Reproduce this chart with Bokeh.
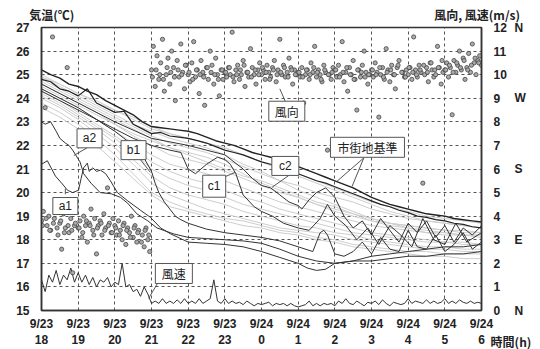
import numpy as np
from bokeh.plotting import figure
from bokeh.models import Range1d, LinearAxis, FixedTicker
from bokeh.core.properties import value
from bokeh.embed import file_html
from bokeh.resources import INLINE

# ---------------- data ----------------
hours = list(range(13))
tick_labels = ["9/23\n18", "9/23\n19", "9/23\n20", "9/23\n21", "9/23\n22", "9/23\n23",
               "9/24\n0", "9/24\n1", "9/24\n2", "9/24\n3", "9/24\n4", "9/24\n5", "9/24\n6"]
temp_ticks = list(range(15, 28))
wind_ticks = list(range(0, 13))
dir_ticks = [0, 3, 6, 9, 12]
dir_names = ["N", "E", "S", "W", "N"]
title_ticks = [0.28, 11.88]
title_texts = ["気温(℃)", "風向, 風速(m/s)"]
x_unit = "時間(h)"

t_q = np.linspace(0, 12, 49)     # quarter-hour samples
t_h = np.linspace(0, 12, 25)     # half-hour samples

# urban reference lines (市街地基準)
ref1 = [25.2, 25.0, 24.85, 24.6, 24.5, 24.3, 24.15, 23.9, 23.7, 23.5, 23.3, 23.0, 22.8, 22.75,
        22.7, 22.65, 22.6, 22.5, 22.35, 22.2, 22.1, 22.0, 21.85, 21.7, 21.6, 21.5, 21.35, 21.2,
        21.1, 20.95, 20.8, 20.65, 20.5, 20.35, 20.2, 20.0, 19.8, 19.65, 19.5, 19.4, 19.3, 19.2,
        19.1, 19.05, 19.0, 18.9, 18.85, 18.8, 18.75]
ref2 = [24.8, 24.7, 24.4, 24.3, 24.1, 24.4, 23.8, 23.6, 23.4, 23.45, 22.9, 22.7, 22.5, 22.55,
        22.4, 22.35, 22.3, 22.2, 22.1, 21.95, 21.8, 21.7, 21.6, 21.45, 21.3, 21.2, 21.05, 20.9,
        20.8, 20.65, 20.5, 20.4, 20.25, 20.1, 19.95, 19.8, 19.65, 19.5, 19.4, 19.25, 19.15, 19.0,
        18.95, 18.85, 18.8, 18.7, 18.65, 18.55, 18.5]

# other observation points (light grey)
grey_lines = [
    [25.0, 24.6, 24.2, 23.8, 23.5, 23.2, 22.8, 22.5, 22.3, 22.1, 21.9, 21.6, 21.3, 21.0, 20.8, 20.5, 20.2, 19.9, 19.6, 19.4, 19.2, 19.0, 18.9, 18.8, 18.7],
    [24.8, 24.4, 24.0, 23.6, 23.2, 22.8, 22.4, 22.1, 21.9, 21.7, 21.4, 21.1, 20.8, 20.5, 20.3, 20.0, 19.8, 19.6, 19.3, 19.1, 18.9, 18.8, 18.7, 18.6, 18.5],
    [24.6, 24.2, 23.8, 23.4, 22.9, 22.4, 22.0, 21.6, 21.4, 21.2, 20.9, 20.6, 20.3, 20.0, 19.8, 19.5, 19.3, 19.1, 18.9, 18.7, 18.6, 18.5, 18.4, 18.3, 18.3],
    [24.4, 24.0, 23.6, 23.1, 22.6, 22.1, 21.6, 21.2, 21.0, 20.8, 20.5, 20.2, 19.9, 19.6, 19.4, 19.2, 19.0, 18.8, 18.6, 18.5, 18.4, 18.3, 18.2, 18.2, 18.1],
    [24.2, 23.8, 23.3, 22.8, 22.3, 21.7, 21.0, 20.6, 20.3, 20.1, 19.8, 19.5, 19.3, 19.1, 18.9, 18.7, 18.5, 18.3, 18.2, 18.1, 18.0, 17.9, 17.9, 17.8, 17.8],
    [24.0, 23.6, 23.1, 22.5, 21.9, 21.2, 20.4, 19.9, 19.6, 19.3, 19.1, 18.9, 18.7, 18.5, 18.4, 18.3, 18.2, 18.0, 17.9, 17.8, 17.7, 17.6, 17.6, 17.5, 17.5],
    [23.8, 23.4, 22.9, 22.3, 21.6, 20.8, 20.0, 19.6, 19.3, 19.1, 18.9, 18.8, 18.6, 18.4, 18.3, 18.1, 18.0, 17.8, 17.7, 17.6, 17.5, 17.5, 17.4, 17.4, 17.4],
    [24.5, 24.1, 23.7, 23.3, 22.9, 22.5, 22.2, 21.9, 21.7, 21.5, 21.2, 20.8, 20.4, 20.1, 19.8, 19.5, 19.2, 19.0, 18.8, 18.7, 18.5, 18.3, 18.3, 18.2, 18.2],
    [24.9, 24.5, 24.1, 23.7, 23.3, 22.9, 22.6, 22.3, 22.1, 21.9, 21.6, 21.2, 20.9, 20.5, 20.1, 19.8, 19.5, 19.2, 18.9, 18.7, 18.6, 18.5, 18.4, 18.4, 18.3],
    [23.6, 23.2, 22.7, 22.0, 21.3, 20.6, 19.9, 19.4, 19.2, 19.0, 18.8, 18.6, 18.5, 18.3, 18.2, 18.0, 17.9, 17.7, 17.6, 17.5, 17.4, 17.3, 17.3, 17.2, 17.2],
    [24.7, 24.3, 23.9, 23.5, 23.1, 22.7, 22.3, 21.9, 21.6, 21.3, 21.0, 20.7, 20.5, 20.2, 19.9, 19.6, 19.4, 19.1, 18.8, 18.6, 18.5, 18.4, 18.3, 18.2, 18.2],
    [24.3, 23.9, 23.4, 22.9, 22.4, 21.9, 21.3, 20.9, 20.6, 20.4, 20.1, 19.8, 19.6, 19.3, 19.1, 18.9, 18.7, 18.5, 18.3, 18.2, 18.1, 18.0, 17.9, 17.9, 17.8],
    [24.1, 23.7, 23.2, 22.7, 22.1, 21.4, 20.7, 20.2, 19.9, 19.7, 19.5, 19.2, 19.0, 18.8, 18.6, 18.5, 18.3, 18.2, 18.0, 17.9, 17.8, 17.7, 17.7, 17.6, 17.6],
    [24.9, 24.6, 24.2, 23.9, 23.5, 23.1, 22.7, 22.5, 22.3, 22.1, 21.9, 21.6, 21.3, 21.0, 20.7, 20.4, 20.1, 19.8, 19.5, 19.2, 19.0, 18.8, 18.7, 18.6, 18.5],
]

a1_t = [0, 0.16, 0.38, 0.55, 0.71, 0.85, 1.01, 1.08, 1.15, 1.25, 1.3, 1.4, 1.5, 1.61, 1.75, 1.88,
        2.07, 2.35, 2.7, 2.97, 3.25, 3.52, 4.0, 4.5, 5.0, 5.5, 6.0, 6.5, 7.0, 7.25, 7.5, 7.75,
        8.0, 8.5, 9.0, 9.5, 10.0, 10.5, 11.0, 11.5, 12.0]
a1_v = [21.2, 21.35, 20.7, 20.4, 20.1, 20.0, 20.1, 20.6, 21.05, 21.25, 20.9, 21.05, 20.9, 20.95,
        20.8, 20.5, 20.0, 19.65, 19.25, 18.95, 18.5, 18.25, 17.9, 17.85, 17.8, 17.7, 17.5, 17.25,
        17.0, 16.8, 16.7, 16.75, 17.0, 17.1, 17.1, 17.2, 17.3, 17.3, 17.4, 17.4, 17.5]

a2_t = [0, 0.1, 0.25, 0.4, 0.5, 0.65, 0.75, 0.85, 0.95, 1.05, 1.15, 1.35, 1.6, 1.9, 2.15, 2.35,
        2.6, 2.9, 3.15, 3.6, 4.0, 4.5, 5.0, 5.5, 6.0, 6.5, 7.0, 7.5, 8.0, 8.5, 9.0, 9.5, 10.0,
        10.5, 11.0, 11.5, 12.0]
a2_v = [23.0, 22.9, 23.0, 22.6, 22.3, 22.1, 22.0, 21.8, 21.55, 21.3, 20.8, 20.4, 20.0, 19.95,
        19.8, 19.55, 19.1, 18.8, 18.5, 18.25, 18.1, 18.05, 18.0, 17.95, 17.85, 17.6, 17.3, 17.1,
        17.0, 17.1, 17.3, 17.4, 17.5, 17.6, 17.7, 17.7, 17.8]

b1_t = [0, 0.5, 1.0, 1.5, 2.0, 2.5, 2.75, 3.0, 3.1, 3.2, 3.35, 3.5, 3.65, 3.8, 4.0, 4.5, 5.0,
        5.5, 6.0, 6.5, 7.0, 7.4, 7.5, 7.6, 7.7, 7.8, 7.9, 8.0, 8.25, 8.5, 8.75, 9.0, 9.25, 9.5,
        9.75, 10.0, 10.25, 10.5, 10.75, 11.0, 11.25, 11.5, 11.75, 12.0]
b1_v = [24.4, 24.0, 23.6, 23.1, 22.6, 22.0, 21.6, 20.9, 20.4, 20.0, 19.6, 19.3, 19.0, 18.85,
        18.7, 18.45, 18.3, 18.2, 18.1, 17.95, 17.7, 17.5, 17.9, 18.3, 18.4, 18.2, 17.8, 17.4,
        17.3, 17.5, 17.9, 17.4, 18.1, 17.6, 17.5, 18.4, 17.7, 17.6, 18.2, 17.5, 17.8, 18.3,
        17.6, 17.9]

c1_t = [0, 0.5, 1, 1.5, 2, 2.5, 3, 3.5, 3.8, 4.0, 4.2, 4.5, 4.8, 5.0, 5.15, 5.3, 5.5, 5.8, 6.0,
        6.3, 6.6, 7.0, 7.3, 7.6, 7.8, 8.0, 8.3, 8.6, 8.9, 9.2, 9.5, 9.8, 10.1, 10.4, 10.7, 11.0,
        11.3, 11.6, 12.0]
c1_v = [24.3, 23.9, 23.5, 23.1, 22.7, 22.3, 22.0, 21.8, 21.7, 21.0, 20.8, 21.2, 21.5, 21.4,
        21.2, 20.8, 19.9, 19.4, 19.2, 19.0, 18.7, 18.5, 18.4, 18.9, 19.5, 19.0, 18.6, 18.0,
        18.5, 17.8, 18.6, 18.2, 17.7, 18.9, 18.0, 17.8, 18.7, 17.9, 18.3]

c2_t = [0, 1, 2, 3, 4, 4.5, 5.0, 5.25, 5.5, 5.75, 6.0, 6.25, 6.5, 6.75, 7.0, 7.1, 7.3, 7.5,
        7.75, 8.0, 8.25, 8.5, 8.75, 9.0, 9.25, 9.5, 9.75, 10.0, 10.25, 10.5, 10.75, 11.0, 11.25,
        11.5, 11.75, 12.0]
c2_v = [24.6, 23.8, 23.0, 22.3, 22.0, 21.8, 21.6, 21.3, 21.0, 20.6, 20.3, 20.2, 19.9, 19.6,
        19.45, 19.3, 19.7, 20.0, 20.2, 19.8, 19.0, 18.5, 18.8, 18.2, 18.9, 18.4, 17.9, 18.7,
        18.3, 18.8, 18.1, 18.6, 17.9, 18.5, 18.2, 18.6]

# wind speed (m/s), every 0.1 h
ws_t = np.linspace(0, 12, 121)
wind_speed = [1.3, 0.8, 1.5, 1.2, 1.7, 1.1, 1.5, 1.3, 1.8, 1.2,
              1.6, 1.2, 1.5, 1.1, 1.4, 1.0, 1.3, 1.2, 1.4, 1.0,
              1.2, 1.1, 2.0, 1.0, 1.1, 0.8, 0.9, 0.6, 1.0, 0.7,
              0.3,
              0.4, 0.3, 0.5, 0.3, 0.4, 0.3, 0.45, 0.3, 0.5, 0.3,
              0.4, 0.3, 0.5, 0.3, 0.4, 0.5, 1.3, 0.4, 0.3, 0.5,
              0.3, 0.4, 0.3, 0.35, 0.25, 0.4, 0.3, 0.2, 0.3, 0.25,
              0.3, 0.35, 0.2, 0.3, 0.25, 0.3, 0.2, 0.3, 0.2, 0.15,
              0.2, 0.25, 0.4, 0.2, 0.3, 0.2, 0.3, 0.25, 0.3, 0.2,
              0.4, 0.3, 0.5, 0.3, 0.25, 0.4, 0.3, 0.2, 0.35, 0.3,
              0.4, 0.25, 0.45, 0.3, 0.2, 0.35, 0.3, 0.25, 0.3, 0.5,
              0.3, 0.4, 0.35, 0.3, 0.45, 0.3, 0.4, 0.3, 0.35, 0.5,
              0.3, 0.4, 0.3, 0.45, 0.35, 0.3, 0.4, 0.3, 0.35, 0.3]

# wind direction (right scale: 0=N, 3=E, 6=S, 9=W, 12=N), every 0.05 h
wd_t = np.linspace(0, 12, 241)
wind_dir = (
    [3.8, 4.2, 8.6, 3.6, 4.0, 3.4, 11.6, 3.9, 4.4, 3.2, 3.7, 2.6, 4.1, 3.5, 10.3, 3.3, 3.9, 1.6, 3.6, 4.6]
    + [3.5, 3.8, 3.1, 4.0, 3.6, 2.9, 3.7, 4.3, 3.4, 3.9, 2.4, 3.6, 3.8, 3.2, 4.1, 3.5, 5.2, 3.7, 3.3, 3.9]
    + [3.6, 3.2, 3.8, 3.4, 3.0, 3.7, 2.8, 3.5, 3.3, 4.0, 3.1, 3.6, 2.9, 3.4, 6.5, 3.2, 2.7, 3.5, 3.0, 2.5]
    + [10.2, 11.2, 9.5, 10.8, 9.8, 10.5, 11.5, 9.3, 10.0, 10.7, 9.6, 11.0, 10.3, 8.9, 10.6, 9.9, 11.3, 10.1, 9.4, 10.4]
    + [10.0, 9.7, 10.5, 11.4, 9.9, 10.2, 9.2, 10.6, 10.1, 8.7, 10.3, 9.8, 11.0, 10.4, 9.6, 10.7, 10.0, 9.1, 10.2, 9.8]
    + [10.1, 9.9, 10.3, 10.0, 11.8, 9.7, 10.2, 10.4, 9.8, 10.0, 10.6, 9.5, 10.1, 9.9, 11.1, 10.3, 10.0, 9.6, 10.2, 10.5]
    + [10.0, 10.2, 9.8, 10.4, 10.1, 9.9, 10.3, 10.6, 9.7, 10.2, 11.5, 10.0, 10.4, 9.9, 10.1, 10.7, 10.3, 9.6, 10.2, 10.0]
    + [10.1, 9.9, 10.3, 8.8, 10.0, 10.2, 9.8, 10.5, 10.1, 11.2, 9.9, 10.2, 10.0, 9.7, 10.4, 10.1, 6.8, 10.0, 9.8, 10.3]
    + [10.2, 9.9, 10.4, 10.0, 11.4, 9.7, 10.1, 9.3, 10.3, 10.0, 10.6, 9.8, 8.5, 10.2, 9.9, 10.4, 11.0, 10.1, 9.6, 10.0]
    + [10.2, 9.9, 10.5, 10.1, 8.2, 10.0, 10.3, 9.8, 11.1, 10.2, 9.7, 10.4, 10.0, 9.4, 10.3, 10.6, 7.0, 10.1, 9.9, 10.2]
    + [10.0, 10.3, 9.8, 11.6, 10.2, 9.9, 10.4, 10.1, 5.4, 10.0, 10.3, 9.7, 10.5, 10.2, 9.9, 10.0, 11.2, 10.3, 9.6, 10.1]
    + [10.2, 10.5, 9.9, 10.3, 8.3, 10.6, 10.1, 10.4, 11.0, 10.2, 10.7, 9.8, 10.3, 10.9, 10.1, 11.3, 10.5, 10.0, 10.6, 10.8]
    + [10.4]
)
# extra readings, every 0.1 h starting at 0.025 h
wd2_t = np.linspace(0.025, 11.925, 120)
wind_dir2 = (
    [3.6, 3.9, 3.4, 3.7, 3.5, 3.8, 3.3, 3.6, 3.4, 3.7,
     3.5, 3.3, 3.8, 3.6, 3.2, 3.5, 3.7, 3.4, 3.6, 3.3,
     3.5, 3.2, 3.6, 3.4, 3.1, 3.5, 3.3, 2.9, 3.4, 3.2]
    + [9.9, 10.2, 10.0, 9.8, 10.3, 10.1, 9.9, 10.2, 10.0, 10.4,
       10.1, 9.8, 10.2, 10.0, 9.9, 10.3, 10.1, 10.0, 9.8, 10.2,
       10.1, 10.3, 9.9, 10.0, 10.2, 10.4, 10.1, 9.9, 10.2, 10.0,
       10.3, 10.1, 9.8, 10.2, 10.0, 10.1, 10.3, 9.9, 10.2, 10.0,
       10.1, 9.9, 10.2, 10.0, 10.3, 10.1, 9.8, 10.2, 10.0, 10.1,
       10.2, 9.9, 10.1, 10.3, 10.0, 9.8, 10.2, 10.1, 9.9, 10.0,
       10.2, 10.0, 10.3, 9.9, 10.1, 10.2, 10.0, 10.4, 10.1, 9.9,
       10.3, 10.1, 10.0, 10.2, 10.4, 10.1, 10.5, 10.2, 10.3, 10.6,
       10.2, 10.4, 10.1, 10.5, 10.3, 10.6, 10.2, 10.4, 10.7, 10.5]
)

# annotation boxes: text, centre (hour, °C), box size in px
box_text = ["a1", "a2", "b1", "c1", "c2", "風向", "風速", "市街地基準"]
box_x = [0.65, 1.31, 2.51, 4.71, 6.65, 6.69, 3.61, 8.89]
box_y = [19.43, 22.30, 21.80, 20.27, 21.13, 23.45, 16.57, 21.92]
box_w = [25, 25, 25, 23, 27, 36, 37, 74]
box_h = [17, 19, 19, 22, 19, 20, 20, 20]
ptr_x0 = [0.65, 1.245, 2.70, 4.97, 6.74, 6.65, 3.16, 8.79, 8.79]
ptr_y0 = [19.93, 21.90, 21.39, 20.65, 20.72, 23.86, 16.14, 21.47, 21.47]
ptr_x1 = [0.65, 0.88, 2.97, 5.29, 6.29, 6.50, 2.92, 8.06, 8.47]
ptr_y1 = [20.17, 21.57, 20.86, 20.86, 20.23, 24.40, 15.51, 20.48, 20.26]

# ---------------- figure ----------------
FONT = "Liberation Sans"
JP = "Noto Sans CJK JP"

p = figure(frame_width=440, frame_height=283, x_range=Range1d(0, 12), y_range=Range1d(15, 27),
           output_backend="svg", toolbar_location=None,
           min_border_left=41, min_border_top=27, min_border_right=58, min_border_bottom=38)
p.extra_y_ranges = {"wind": Range1d(0, 12)}
p.outline_line_color = "#333333"
p.outline_line_width = 1.5
p.background_fill_color = "white"
p.border_fill_color = "white"


def style_axis(ax, standoff, font=FONT, line=True):
    ax.major_tick_line_color = None
    ax.minor_tick_line_color = None
    ax.major_tick_out = 0
    ax.major_tick_in = 0
    ax.minor_tick_out = 0
    ax.minor_tick_in = 0
    ax.major_label_text_font = font
    ax.major_label_text_font_style = "bold"
    ax.major_label_text_font_size = "12px"
    ax.major_label_text_color = "#222222"
    ax.major_label_standoff = standoff
    if line:
        ax.axis_line_color = "#333333"
        ax.axis_line_width = 1.5
    else:
        ax.axis_line_color = None


p.xaxis.ticker = FixedTicker(ticks=hours)
p.xaxis.major_label_overrides = {h: s for h, s in zip(hours, tick_labels)}
style_axis(p.xaxis[0], 6)
p.yaxis.ticker = FixedTicker(ticks=temp_ticks)
style_axis(p.yaxis[0], 12)

p.xgrid.ticker = FixedTicker(ticks=hours)
p.ygrid.ticker = FixedTicker(ticks=temp_ticks)
p.grid.grid_line_color = "#555555"
p.grid.grid_line_dash = "3 3"
p.grid.grid_line_width = 1

# right scale: wind speed / direction
ax_r = LinearAxis(y_range_name="wind", ticker=FixedTicker(ticks=wind_ticks))
style_axis(ax_r, 12)
p.add_layout(ax_r, "right")
ax_d = LinearAxis(y_range_name="wind", ticker=FixedTicker(ticks=dir_ticks),
                  major_label_overrides={k: n for k, n in zip(dir_ticks, dir_names)})
style_axis(ax_d, 5, line=False)
p.add_layout(ax_d, "right")

# axis titles on top
ax_t = LinearAxis(ticker=FixedTicker(ticks=title_ticks),
                  major_label_overrides={k: s for k, s in zip(title_ticks, title_texts)})
style_axis(ax_t, 5, font=JP, line=False)
p.add_layout(ax_t, "above")

# light grey band
for g in grey_lines:
    p.line(t_h, g, line_color="#cdcdcd", line_width=1)

# dark lines
for tt, vv in ((a1_t, a1_v), (a2_t, a2_v), (b1_t, b1_v), (c1_t, c1_v), (c2_t, c2_v)):
    p.line(tt, vv, line_color="#333333", line_width=1)
p.line(t_q, ref2, line_color="#222222", line_width=1.2)
p.line(t_q, ref1, line_color="#222222", line_width=1.4)

# wind speed
p.line(ws_t, wind_speed, y_range_name="wind", line_color="#333333", line_width=1)

# wind direction points
p.scatter(wd_t, wind_dir, y_range_name="wind", marker="circle", size=4.2,
          fill_color="#aaaaaa", line_color="#444444", line_width=0.8)
p.scatter(wd2_t, wind_dir2, y_range_name="wind", marker="circle", size=4.2,
          fill_color="#aaaaaa", line_color="#444444", line_width=0.8)

# annotations
p.segment(ptr_x0, ptr_y0, ptr_x1, ptr_y1, line_color="#555555", line_width=1)
p.rect(box_x, box_y, width=box_w, height=box_h, width_units="screen", height_units="screen",
       fill_color="white", line_color="#555555", line_width=1)
p.text(box_x[:5], box_y[:5], text=box_text[:5], text_font=value(FONT), text_font_size="12px",
       text_align="center", text_baseline="middle", text_color="#222222")
p.text(box_x[5:], box_y[5:], text=box_text[5:], text_font=value(JP), text_font_size="12px",
       text_align="center", text_baseline="middle", text_color="#222222")

# x axis unit, bottom right (drawn at overlay level, outside the frame)
p.text([13.36], [13.68], text=[x_unit], text_font=value(JP), text_font_style="bold",
       text_font_size="12px", text_align="right", text_baseline="middle",
       text_color="#222222", level="overlay")

open("out.html", "w").write(file_html(p, INLINE))
